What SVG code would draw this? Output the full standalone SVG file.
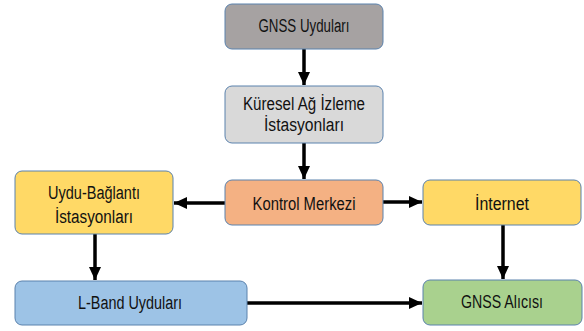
<svg xmlns="http://www.w3.org/2000/svg" width="584" height="331" viewBox="0 0 584 331">
<style>
.box{stroke:#5b82ad;stroke-width:1}
.t{font-family:"Liberation Sans",Arial,sans-serif;font-size:18px;fill:#111;text-anchor:middle}
.c{stroke:#000;stroke-width:3.5;fill:none}
</style>
<defs>
<marker id="ah" markerUnits="userSpaceOnUse" markerWidth="14" markerHeight="14" viewBox="0 0 14 14" refX="13" refY="7" orient="auto">
<path d="M0,1 L13,7 L0,13 Z" fill="#000"/>
</marker>
</defs>
<rect width="584" height="331" fill="#fff"/>
<g id="connectors">
<line class="c" x1="304" y1="49" x2="304" y2="85" marker-end="url(#ah)"/>
<line class="c" x1="304" y1="143" x2="304" y2="179" marker-end="url(#ah)"/>
<line class="c" x1="226" y1="203" x2="174" y2="203" marker-end="url(#ah)"/>
<line class="c" x1="383" y1="202" x2="422" y2="202" marker-end="url(#ah)"/>
<line class="c" x1="95" y1="234" x2="95" y2="280" marker-end="url(#ah)"/>
<line class="c" x1="503" y1="225" x2="503" y2="279" marker-end="url(#ah)"/>
<line class="c" x1="247" y1="303" x2="422" y2="303" marker-end="url(#ah)"/>
</g>
<g id="gnss-uydulari">
<rect class="box" x="225" y="4" width="158" height="45" rx="7" fill="#a6a2a2"/>
<text class="t" x="304" y="32" textLength="91" lengthAdjust="spacingAndGlyphs">GNSS Uyduları</text>
</g>
<g id="kuresel-ag">
<rect class="box" x="225" y="86" width="158" height="57" rx="7" fill="#d9d9d9"/>
<text class="t" x="304" y="110" textLength="122" lengthAdjust="spacingAndGlyphs">Küresel Ağ İzleme</text>
<text class="t" x="304" y="131" textLength="80" lengthAdjust="spacingAndGlyphs">İstasyonları</text>
</g>
<g id="kontrol-merkezi">
<rect class="box" x="225" y="180" width="158" height="45" rx="7" fill="#f4b183"/>
<text class="t" x="304" y="210" textLength="103" lengthAdjust="spacingAndGlyphs">Kontrol Merkezi</text>
</g>
<g id="uydu-baglanti">
<rect class="box" x="15" y="171" width="158" height="63" rx="7" fill="#ffd966"/>
<text class="t" x="94" y="199" textLength="92" lengthAdjust="spacingAndGlyphs">Uydu-Bağlantı</text>
<text class="t" x="94" y="223" textLength="78" lengthAdjust="spacingAndGlyphs">İstasyonları</text>
</g>
<g id="internet">
<rect class="box" x="423" y="180" width="158" height="45" rx="7" fill="#ffd966"/>
<text class="t" x="502" y="210" textLength="54" lengthAdjust="spacingAndGlyphs">İnternet</text>
</g>
<g id="l-band">
<rect class="box" x="15" y="281" width="232" height="44" rx="7" fill="#9dc3e6"/>
<text class="t" x="130" y="309" textLength="104" lengthAdjust="spacingAndGlyphs">L-Band Uyduları</text>
</g>
<g id="gnss-alicisi">
<rect class="box" x="423" y="280" width="159" height="45" rx="7" fill="#a9d18e"/>
<text class="t" x="502" y="308" textLength="82" lengthAdjust="spacingAndGlyphs">GNSS Alıcısı</text>
</g>
</svg>
